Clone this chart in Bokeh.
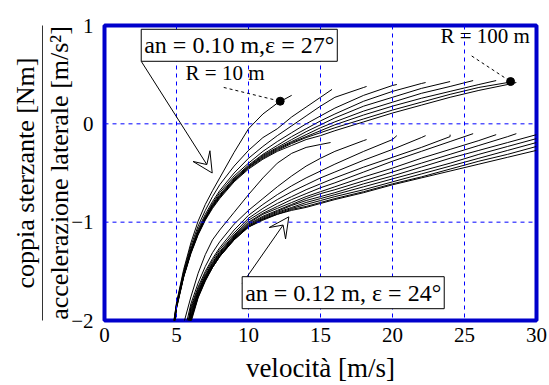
from bokeh.plotting import figure
from bokeh.models import (LinearAxis, Range1d, FixedTicker, Label, Arrow,
                          VeeHead, Span)
from bokeh.embed import file_html
from bokeh.resources import INLINE

FONT = "Liberation Serif"
FRAME_BLUE = "#0000cc"
GRID_BLUE = "#0000ff"

X_TICKS = [0, 5, 10, 15, 20, 25, 30]
Y_TICKS = [-2, -1, 0, 1]
X_GRID = [5, 10, 15, 20, 25]
Y_GRID = [-1, 0]

# an = 0.10 m, eps = 27 deg : one curve per curve radius R [m]
UPPER_X = [4.8, 5.0, 5.5, 6.0, 6.5, 7.0, 7.5, 8.0, 9.0, 10.0, 11.0, 12.0,
           13.0, 14.0, 15.0, 16.0, 18.0, 20.0, 22.0, 24.0, 26.0, 28.0]
UPPER_Y = {
    10: [-2.02, -1.82, -1.48, -1.21, -0.99, -0.82, -0.68, -0.55, -0.29, -0.05, 0.10, 0.21],
    20: [-2.03, -1.83, -1.50, -1.24, -1.04, -0.88, -0.74, -0.62, -0.43, -0.27, -0.14, -0.05,
         0.07, 0.17, 0.27],
    30: [-2.04, -1.84, -1.52, -1.27, -1.07, -0.92, -0.79, -0.68, -0.50, -0.35, -0.23, -0.12,
         -0.02, 0.08, 0.18, 0.27, 0.37],
    40: [-2.05, -1.85, -1.53, -1.28, -1.09, -0.94, -0.81, -0.70, -0.53, -0.40, -0.28, -0.18,
         -0.09, 0.00, 0.08, 0.16, 0.29, 0.39],
    50: [-2.06, -1.85, -1.54, -1.29, -1.10, -0.95, -0.82, -0.72, -0.55, -0.42, -0.31, -0.22,
         -0.13, -0.05, 0.03, 0.10, 0.23, 0.33, 0.41],
    60: [-2.07, -1.86, -1.54, -1.30, -1.11, -0.96, -0.83, -0.73, -0.56, -0.43, -0.32, -0.24,
         -0.16, -0.08, -0.01, 0.06, 0.18, 0.27, 0.36],
    70: [-2.08, -1.86, -1.55, -1.30, -1.11, -0.96, -0.84, -0.74, -0.57, -0.44, -0.33, -0.25,
         -0.18, -0.11, -0.04, 0.02, 0.13, 0.22, 0.31, 0.38],
    80: [-2.09, -1.87, -1.55, -1.31, -1.12, -0.97, -0.84, -0.74, -0.58, -0.44, -0.34, -0.26,
         -0.19, -0.13, -0.07, -0.01, 0.09, 0.18, 0.26, 0.33, 0.40],
    90: [-2.09, -1.87, -1.55, -1.31, -1.12, -0.97, -0.85, -0.75, -0.58, -0.45, -0.35, -0.27,
         -0.20, -0.14, -0.09, -0.04, 0.05, 0.14, 0.22, 0.30, 0.37, 0.42],
    100: [-2.10, -1.88, -1.56, -1.32, -1.13, -0.98, -0.86, -0.76, -0.59, -0.46, -0.36, -0.28,
          -0.22, -0.16, -0.12, -0.07, 0.02, 0.11, 0.19, 0.27, 0.34, 0.40],
}
UPPER_END = {10: (13.0, 0.29), 20: (15.8, 0.35), 30: (18.2, 0.38), 40: (20.3, 0.40),
             50: (22.3, 0.42), 60: (24.0, 0.43), 70: (25.6, 0.44), 80: (27.2, 0.44),
             90: (28.3, 0.44), 100: (28.6, 0.42)}

# an = 0.12 m, eps = 24 deg
LOWER_X = [5.5, 6.0, 6.5, 7.0, 7.5, 8.0, 9.0, 10.0, 11.0, 12.0, 13.0, 14.0, 15.0,
           16.0, 18.0, 20.0, 22.0, 24.0, 26.0, 28.0, 30.0]
LOWER_Y = [
    [-2.03, -1.76, -1.52, -1.33, -1.18, -1.08, -0.90, -0.72, -0.55, -0.40, -0.30, -0.24, -0.21],
    [-2.15, -1.83, -1.62, -1.45, -1.31, -1.20, -1.02, -0.88, -0.76, -0.64, -0.53, -0.43, -0.35,
     -0.28, -0.17],
    [-2.25, -1.86, -1.66, -1.50, -1.37, -1.26, -1.08, -0.93, -0.82, -0.72, -0.63, -0.55, -0.48,
     -0.41, -0.28, -0.16],
    [-2.30, -1.88, -1.68, -1.52, -1.39, -1.28, -1.11, -0.96, -0.86, -0.77, -0.69, -0.62, -0.55,
     -0.49, -0.37, -0.26, -0.14],
    [-2.35, -1.90, -1.70, -1.54, -1.41, -1.30, -1.13, -0.98, -0.89, -0.81, -0.74, -0.67, -0.61,
     -0.55, -0.44, -0.34, -0.24, -0.13],
    [-2.40, -1.92, -1.71, -1.55, -1.42, -1.31, -1.14, -1.00, -0.91, -0.84, -0.77, -0.71, -0.65,
     -0.60, -0.49, -0.38, -0.28, -0.18],
    [-2.45, -1.94, -1.72, -1.56, -1.43, -1.32, -1.15, -1.01, -0.92, -0.86, -0.80, -0.74, -0.69,
     -0.64, -0.54, -0.45, -0.35, -0.26, -0.17],
    [-2.50, -1.96, -1.73, -1.57, -1.44, -1.33, -1.16, -1.02, -0.94, -0.88, -0.82, -0.76, -0.71,
     -0.67, -0.58, -0.49, -0.40, -0.31, -0.22, -0.13],
    [-2.55, -1.97, -1.74, -1.58, -1.45, -1.34, -1.16, -1.03, -0.95, -0.89, -0.83, -0.78, -0.74,
     -0.70, -0.61, -0.53, -0.44, -0.35, -0.27, -0.19, -0.11],
    [-2.60, -1.98, -1.75, -1.58, -1.45, -1.34, -1.17, -1.04, -0.96, -0.90, -0.85, -0.80, -0.76,
     -0.72, -0.64, -0.56, -0.48, -0.40, -0.31, -0.23, -0.15],
    [-2.65, -1.99, -1.76, -1.59, -1.46, -1.35, -1.17, -1.04, -0.97, -0.91, -0.86, -0.82, -0.78,
     -0.74, -0.67, -0.59, -0.51, -0.43, -0.35, -0.27, -0.19],
    [-2.70, -2.00, -1.76, -1.59, -1.46, -1.35, -1.18, -1.05, -0.97, -0.92, -0.87, -0.84, -0.80,
     -0.76, -0.69, -0.61, -0.54, -0.46, -0.38, -0.31, -0.23],
    [-2.75, -2.02, -1.77, -1.60, -1.46, -1.35, -1.18, -1.05, -0.98, -0.92, -0.88, -0.85, -0.81,
     -0.77, -0.70, -0.62, -0.55, -0.48, -0.41, -0.34, -0.27],
]
LOWER_END = [(15.7, -0.19), (18.2, -0.16), (20.3, -0.12), (22.3, -0.12), (24.0, -0.11),
             (25.6, -0.10), (27.2, -0.11), (28.6, -0.10), None, None, None, None, None]

BOX_TEXTS = ["an = 0.10 m,\u03b5 = 27\u00b0", "an = 0.12 m, \u03b5 = 24\u00b0"]
R_TEXTS = ["R = 10 m", "R = 100 m"]
R_DOTS_X = [12.2, 28.2]
R_DOTS_Y = [0.23, 0.43]

p = figure(width=549, height=385, x_range=Range1d(0, 30), y_range=Range1d(-2, 1),
           x_axis_type=None, y_axis_type=None, output_backend="svg",
           toolbar_location=None, min_border_left=104, min_border_right=13,
           min_border_top=25, min_border_bottom=63)
p.background_fill_color = "white"
p.border_fill_color = "white"
p.outline_line_color = FRAME_BLUE
p.outline_line_width = 4

# dashed grid
for gx in X_GRID:
    p.add_layout(Span(location=gx, dimension="height", line_color=GRID_BLUE,
                      line_width=1, line_dash="4 4"))
for gy in Y_GRID:
    p.add_layout(Span(location=gy, dimension="width", line_color=GRID_BLUE,
                      line_width=1, line_dash="4 4"))

# axes
xaxis = LinearAxis(ticker=FixedTicker(ticks=X_TICKS), axis_label="velocità [m/s]")
yaxis = LinearAxis(ticker=FixedTicker(ticks=Y_TICKS),
                   axis_label="accelerazione laterale [m/s\u00b2]")
for ax in (xaxis, yaxis):
    ax.axis_line_color = None
    ax.major_tick_line_color = None
    ax.minor_tick_line_color = None
    ax.major_tick_out = 0
    ax.major_tick_in = 0
    ax.major_label_text_font = FONT
    ax.major_label_text_font_size = "21px"
    ax.major_label_text_color = "black"
    ax.axis_label_text_font = FONT
    ax.axis_label_text_font_style = "normal"
    ax.axis_label_text_color = "black"
xaxis.axis_label_text_font_size = "27px"
yaxis.axis_label_text_font_size = "26px"
xaxis.major_label_standoff = 7
xaxis.axis_label_standoff = 8
yaxis.major_label_standoff = 11
yaxis.axis_label_standoff = -6
p.add_layout(xaxis, "below")
p.add_layout(yaxis, "left")

# numerator of the y label, its axis line is the fraction bar
num_axis = LinearAxis(ticker=FixedTicker(ticks=[]), axis_label="coppia sterzante [Nm]")
num_axis.axis_line_color = "#333333"
num_axis.axis_line_width = 1
num_axis.major_tick_out = 0
num_axis.major_tick_in = 0
num_axis.major_label_standoff = 0
num_axis.major_label_text_font_size = "0px"
num_axis.axis_label_text_font = FONT
num_axis.axis_label_text_font_size = "26px"
num_axis.axis_label_text_font_style = "normal"
num_axis.axis_label_text_color = "black"
num_axis.axis_label_standoff = 3
p.add_layout(num_axis, "left")

# curves
for r, ys in UPPER_Y.items():
    xs = UPPER_X[:len(ys)] + [UPPER_END[r][0]]
    yy = ys + [UPPER_END[r][1]]
    p.line(xs, yy, line_color="black", line_width=1)

for ys, end in zip(LOWER_Y, LOWER_END):
    xs = LOWER_X[:len(ys)]
    yy = list(ys)
    if end is not None:
        xs = xs + [end[0]]
        yy = yy + [end[1]]
    p.line(xs, yy, line_color="black", line_width=1)

# R markers with dashed leaders
p.segment(x0=[8.28, 25.5], y0=[0.37, 0.69], x1=R_DOTS_X, y1=R_DOTS_Y,
          line_color="black", line_width=1, line_dash="3 3")
p.scatter(R_DOTS_X, R_DOTS_Y, size=8, color="black")
p.add_layout(Label(x=5.63, y=0.39, text=R_TEXTS[0], text_font=FONT,
                   text_font_size="21px", text_color="black"))
p.add_layout(Label(x=23.33, y=0.772, text=R_TEXTS[1], text_font=FONT,
                   text_font_size="21px", text_color="black"))

# boxed family captions with arrows
p.add_layout(Arrow(x_start=2.55, y_start=0.636, x_end=7.48, y_end=-0.50,
                   line_color="black", line_width=1,
                   end=VeeHead(size=20, fill_color="white", line_color="black", line_width=1)))
p.add_layout(Arrow(x_start=9.56, y_start=-1.626, x_end=12.8, y_end=-0.946,
                   line_color="black", line_width=1,
                   end=VeeHead(size=20, fill_color="white", line_color="black", line_width=1)))
p.add_layout(Label(x=2.55, y=0.636, text=BOX_TEXTS[0], text_font=FONT,
                   text_font_size="24px", text_color="black",
                   border_line_color="black", border_line_width=1,
                   background_fill_color="white", padding=3))
p.add_layout(Label(x=9.56, y=-1.88, text=BOX_TEXTS[1], text_font=FONT,
                   text_font_size="24px", text_color="black",
                   border_line_color="black", border_line_width=1,
                   background_fill_color="white", padding=3))

open("out.html", "w").write(file_html(p, INLINE))
